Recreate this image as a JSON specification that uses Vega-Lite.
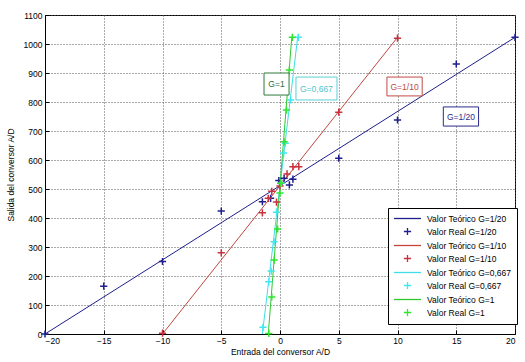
{
"$schema": "https://vega.github.io/schema/vega-lite/v6.json",
"width": 470, "height": 319,
"autosize": "none",
"padding": {"left": 45, "top": 15, "right": 10, "bottom": 28},
"background": "white",
"config": {
 "view": {"stroke": "black", "strokeWidth": 1},
 "font": "Liberation Sans",
 "axis": {"labelFont": "Liberation Sans", "labelFontSize": 8.5, "labelColor": "black", "titleFont": "Liberation Sans", "titleFontSize": 8.5, "titleFontWeight": "normal", "titleColor": "black", "domainColor": "black", "tickColor": "black", "grid": true, "gridColor": "#555", "gridDash": [1, 2], "gridOpacity": 1, "gridWidth": 1, "tickSize": -4, "labelPadding": 6, "labelOverlap": false, "format": "d"},
 "legend": {"labelFont": "Liberation Sans", "labelFontSize": 8.5, "labelColor": "black", "labelLimit": 0}
},
"datasets": {
 "teo": [
  {"serie": "Valor Teórico G=1/20", "x": -20, "y": 0}, {"serie": "Valor Teórico G=1/20", "x": 20, "y": 1023},
  {"serie": "Valor Teórico G=1/10", "x": -10, "y": 0}, {"serie": "Valor Teórico G=1/10", "x": 10, "y": 1023},
  {"serie": "Valor Teórico G=0,667", "x": -1.5, "y": 0}, {"serie": "Valor Teórico G=0,667", "x": 1.5, "y": 1023},
  {"serie": "Valor Teórico G=1", "x": -1, "y": 0}, {"serie": "Valor Teórico G=1", "x": 1, "y": 1023}
 ],
 "real": [
  {"serie": "Valor Real G=1/20", "x": -20, "y": 0},
  {"serie": "Valor Real G=1/20", "x": -15, "y": 165},
  {"serie": "Valor Real G=1/20", "x": -10, "y": 250},
  {"serie": "Valor Real G=1/20", "x": -5, "y": 424},
  {"serie": "Valor Real G=1/20", "x": -1.5, "y": 456},
  {"serie": "Valor Real G=1/20", "x": -0.8, "y": 468},
  {"serie": "Valor Real G=1/20", "x": -0.1, "y": 529},
  {"serie": "Valor Real G=1/20", "x": 0.35, "y": 537},
  {"serie": "Valor Real G=1/20", "x": 0.8, "y": 514},
  {"serie": "Valor Real G=1/20", "x": 1.1, "y": 534},
  {"serie": "Valor Real G=1/20", "x": 5, "y": 606},
  {"serie": "Valor Real G=1/20", "x": 10, "y": 738},
  {"serie": "Valor Real G=1/20", "x": 15, "y": 931},
  {"serie": "Valor Real G=1/20", "x": 20, "y": 1023},
  {"serie": "Valor Real G=1/10", "x": -10, "y": 3},
  {"serie": "Valor Real G=1/10", "x": -5, "y": 280},
  {"serie": "Valor Real G=1/10", "x": -1.5, "y": 418},
  {"serie": "Valor Real G=1/10", "x": -1, "y": 468},
  {"serie": "Valor Real G=1/10", "x": -0.7, "y": 492},
  {"serie": "Valor Real G=1/10", "x": -0.3, "y": 455},
  {"serie": "Valor Real G=1/10", "x": 0, "y": 510},
  {"serie": "Valor Real G=1/10", "x": 0.6, "y": 552},
  {"serie": "Valor Real G=1/10", "x": 1.1, "y": 577},
  {"serie": "Valor Real G=1/10", "x": 1.6, "y": 577},
  {"serie": "Valor Real G=1/10", "x": 5, "y": 765},
  {"serie": "Valor Real G=1/10", "x": 10, "y": 1020},
  {"serie": "Valor Real G=0,667", "x": -1.45, "y": 23},
  {"serie": "Valor Real G=0,667", "x": -0.95, "y": 180},
  {"serie": "Valor Real G=0,667", "x": -0.75, "y": 217},
  {"serie": "Valor Real G=0,667", "x": -0.5, "y": 318},
  {"serie": "Valor Real G=0,667", "x": -0.3, "y": 420},
  {"serie": "Valor Real G=0,667", "x": 0.1, "y": 520},
  {"serie": "Valor Real G=0,667", "x": 0.3, "y": 624},
  {"serie": "Valor Real G=0,667", "x": 0.45, "y": 658},
  {"serie": "Valor Real G=0,667", "x": 0.9, "y": 807},
  {"serie": "Valor Real G=0,667", "x": 1.55, "y": 1023},
  {"serie": "Valor Real G=1", "x": -0.95, "y": 2},
  {"serie": "Valor Real G=1", "x": -0.7, "y": 128},
  {"serie": "Valor Real G=1", "x": -0.5, "y": 255},
  {"serie": "Valor Real G=1", "x": -0.2, "y": 362},
  {"serie": "Valor Real G=1", "x": 0, "y": 486},
  {"serie": "Valor Real G=1", "x": 0.05, "y": 520},
  {"serie": "Valor Real G=1", "x": 0.35, "y": 663},
  {"serie": "Valor Real G=1", "x": 0.55, "y": 772},
  {"serie": "Valor Real G=1", "x": 0.8, "y": 910},
  {"serie": "Valor Real G=1", "x": 1.05, "y": 1023}
 ],
 "ann": [
  {"label": "G=1", "x": -1.36, "xe": 0.77, "y": 824, "ye": 900, "xc": -0.3, "yc": 862},
  {"label": "G=0,667", "x": 1.36, "xe": 4.85, "y": 807, "ye": 886, "xc": 3.1, "yc": 846},
  {"label": "G=1/10", "x": 9.1, "xe": 12.1, "y": 821, "ye": 886, "xc": 10.6, "yc": 853},
  {"label": "G=1/20", "x": 13.9, "xe": 16.9, "y": 717, "ye": 783, "xc": 15.4, "yc": 750}
 ]
},
"encoding": {
 "x": {"field": "x", "type": "quantitative", "scale": {"domain": [-20, 20], "nice": false}, "axis": {"values": [-20, -15, -10, -5, 0, 5, 10, 15, 20], "title": "Entrada del conversor A/D", "titlePadding": 3, "labelPadding": 6, "grid": true, "labelOverlap": false}},
 "y": {"field": "y", "type": "quantitative", "scale": {"domain": [0, 1100], "nice": false}, "axis": {"values": [0, 100, 200, 300, 400, 500, 600, 700, 800, 900, 1000, 1100], "title": "Salida del conversor A/D", "titlePadding": 8, "labelPadding": 7, "grid": true, "labelOverlap": false}}
},
"layer": [
 {
  "data": {"name": "teo"},
  "mark": {"type": "line", "strokeWidth": 1, "clip": true},
  "encoding": {
   "color": {"field": "serie", "type": "nominal", "scale": {"domain": ["Valor Teórico G=1/20", "Valor Real G=1/20", "Valor Teórico G=1/10", "Valor Real G=1/10", "Valor Teórico G=0,667", "Valor Real G=0,667", "Valor Teórico G=1", "Valor Real G=1"], "range": ["#1e1e8c", "#1e1e8c", "#c0453d", "#c8303c", "#3fdde6", "#3fe8f0", "#30c830", "#2ee62e"]},
    "legend": {"orient": "none", "legendX": 343, "legendY": 193, "title": null, "fillColor": "white", "strokeColor": "black", "padding": 5, "symbolSize": 81, "symbolStrokeWidth": 1.3, "symbolOffset": 9, "labelOffset": 14, "rowPadding": 2}}
  }
 },
 {
  "data": {"name": "real"},
  "mark": {"type": "point", "filled": false, "strokeWidth": 1.5, "size": 81, "opacity": 1},
  "encoding": {
   "color": {"field": "serie", "type": "nominal"},
   "shape": {"field": "serie", "type": "nominal", "scale": {"domain": ["Valor Teórico G=1/20", "Valor Real G=1/20", "Valor Teórico G=1/10", "Valor Real G=1/10", "Valor Teórico G=0,667", "Valor Real G=0,667", "Valor Teórico G=1", "Valor Real G=1"], "range": ["M-3,0H3", "M-0.8,0H0.8M0,-0.8V0.8", "M-3,0H3", "M-0.8,0H0.8M0,-0.8V0.8", "M-3,0H3", "M-0.8,0H0.8M0,-0.8V0.8", "M-3,0H3", "M-0.8,0H0.8M0,-0.8V0.8"]},
    "legend": {"orient": "none", "legendX": 343, "legendY": 193, "title": null, "fillColor": "white", "strokeColor": "black", "padding": 5, "symbolSize": 81, "symbolStrokeWidth": 1.3, "symbolOffset": 9, "labelOffset": 14, "rowPadding": 2}}
  }
 },
 {
  "data": {"name": "ann"},
  "mark": {"type": "rect", "fill": "white", "strokeWidth": 1},
  "encoding": {
   "x2": {"field": "xe"},
   "y2": {"field": "ye"},
   "stroke": {"field": "label", "type": "nominal", "scale": {"domain": ["G=1", "G=0,667", "G=1/10", "G=1/20"], "range": ["#2f7a3a", "#5ccfd2", "#c04a44", "#2a2a8c"]}, "legend": null}
  }
 },
 {
  "data": {"name": "ann"},
  "mark": {"type": "text", "fontSize": 8.5, "font": "Liberation Sans", "align": "center", "baseline": "middle"},
  "encoding": {
   "x": {"field": "xc", "type": "quantitative"},
   "y": {"field": "yc", "type": "quantitative"},
   "text": {"field": "label"},
   "fill": {"field": "label", "type": "nominal", "scale": {"domain": ["G=1", "G=0,667", "G=1/10", "G=1/20"], "range": ["#2f6a3a", "#4cc4cc", "#c04a44", "#2a2a8c"]}, "legend": null}
  }
 }
]
}
